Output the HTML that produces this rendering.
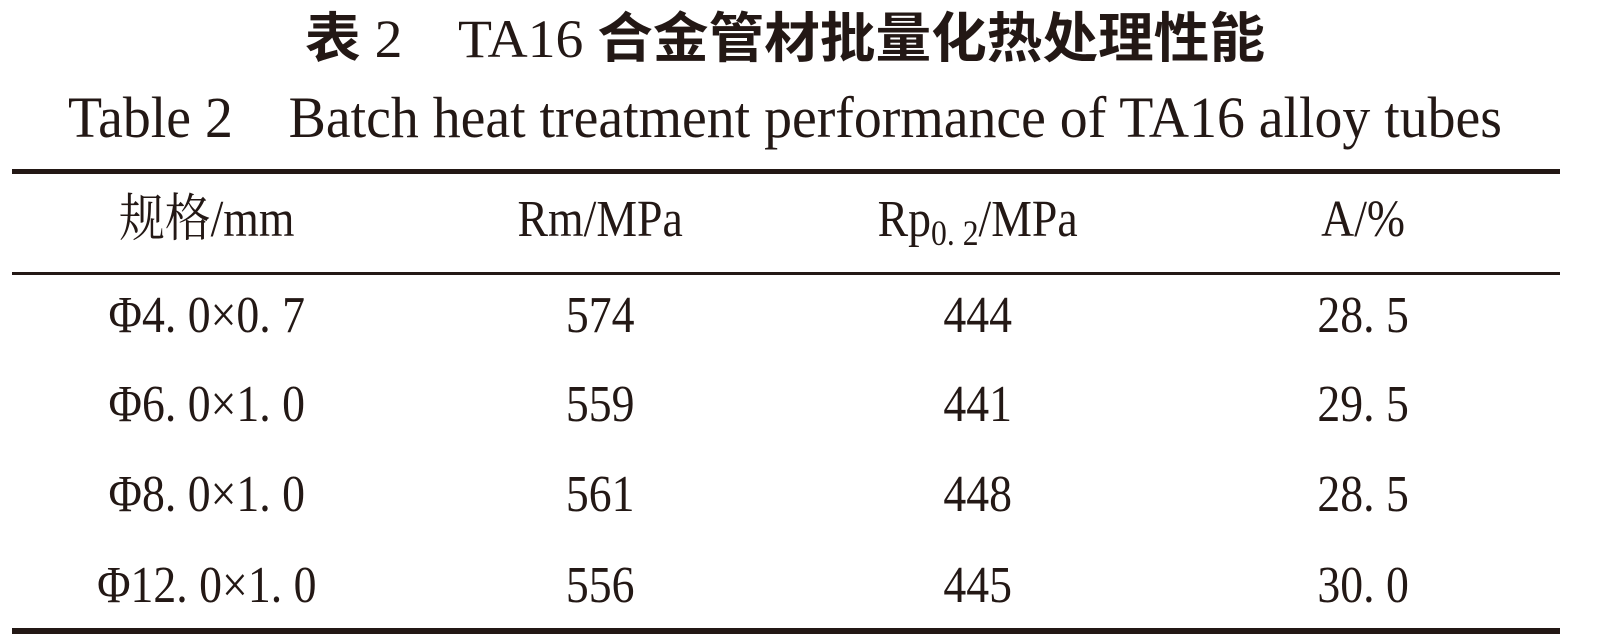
<!DOCTYPE html>
<html><head><meta charset="utf-8"><style>
html,body{margin:0;padding:0;background:#fff;}
svg{display:block;}
.c{font-family:"Liberation Serif","Noto Serif CJK SC",serif;font-size:52px;fill:#231815;}
</style></head><body>
<svg width="1600" height="644" viewBox="0 0 1600 644">
<g transform="translate(0,57) scale(1,1.12)">
<text x="785" y="0" text-anchor="middle" font-family="Liberation Serif, Noto Sans CJK SC, sans-serif" font-size="48" fill="#231815" textLength="960" lengthAdjust="spacingAndGlyphs"><tspan font-family="Noto Sans CJK SC, sans-serif" font-weight="700">表</tspan> 2　TA16 <tspan font-family="Noto Sans CJK SC, sans-serif" font-weight="700">合金管材批量化热处理性能</tspan></text>
</g>
<g transform="translate(0,137) scale(1,1.12)">
<text x="68" y="0" font-family="Liberation Serif, serif" font-size="52" fill="#231815" textLength="1434" lengthAdjust="spacingAndGlyphs">Table 2　Batch heat treatment performance of TA16 alloy tubes</text>
</g>
<rect x="12" y="169" width="1548" height="5" fill="#231815"/>
<rect x="12" y="272" width="1548" height="3" fill="#231815"/>
<rect x="12" y="628" width="1548" height="6" fill="#231815"/>
<g class="c" text-anchor="middle" transform="scale(0.88,1)">
<text x="235" y="236">规格/mm</text>
<text x="682" y="236">Rm/MPa</text>
<text x="1111" y="236">Rp<tspan font-size="36" dy="9">0. 2</tspan><tspan dy="-9">/MPa</tspan></text>
<text x="1549" y="236">A/%</text>
<text x="235" y="332">Φ4. 0×0. 7</text><text x="682" y="332">574</text><text x="1111" y="332">444</text><text x="1549" y="332">28. 5</text>
<text x="235" y="421">Φ6. 0×1. 0</text><text x="682" y="421">559</text><text x="1111" y="421">441</text><text x="1549" y="421">29. 5</text>
<text x="235" y="511">Φ8. 0×1. 0</text><text x="682" y="511">561</text><text x="1111" y="511">448</text><text x="1549" y="511">28. 5</text>
<text x="235" y="602">Φ12. 0×1. 0</text><text x="682" y="602">556</text><text x="1111" y="602">445</text><text x="1549" y="602">30. 0</text>
</g>
</svg>
</body></html>
